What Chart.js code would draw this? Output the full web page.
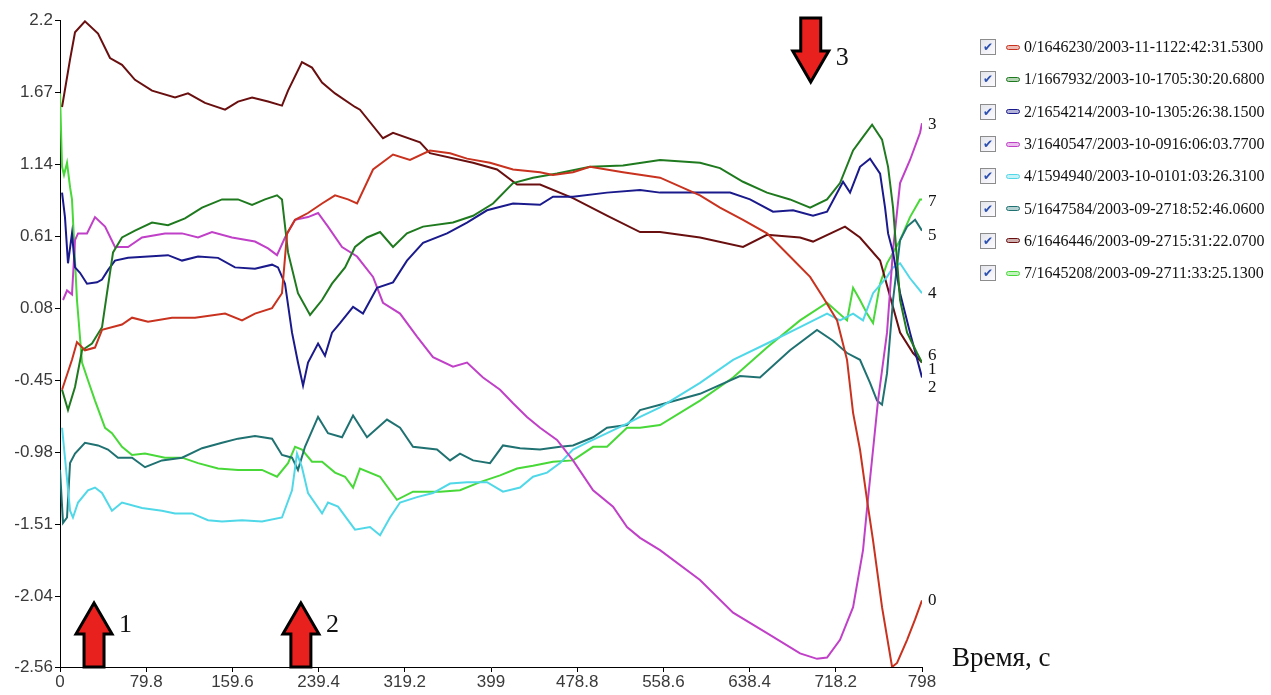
<!DOCTYPE html>
<html>
<head>
<meta charset="utf-8">
<script src="https://cdn.jsdelivr.net/npm/chart.js@4.4.1/dist/chart.umd.min.js"></script>
<style>
  body { margin: 0; background: #fff; }
  #wrap { position: relative; width: 1271px; height: 695px; }
  #legend { position: absolute; left: 980px; top: 31px; font-family: "Liberation Serif", "Times New Roman", serif; font-size: 16px; color: #111; }
  .row { height: 32.3px; display: flex; align-items: center; white-space: nowrap; }
  .cb { display: inline-block; box-sizing: border-box; width: 16px; height: 16px; margin-right: 10px; border: 1px solid #8c8c8c;
        background: linear-gradient(135deg, #e4e4ec, #fbfbff); color: #2a4fb0; font: bold 12px "DejaVu Sans", sans-serif; line-height: 14px; text-align: center; }
  .sw { display: inline-block; width: 12px; height: 3px; border: 1px solid; border-radius: 3px; margin-right: 4px; }
</style>
</head>
<body>
<div id="wrap">
  <canvas id="myChart" width="1271" height="695"></canvas>
  <div id="legend"></div>
</div>
<script>
// series names (legend) and colours
var names = ['0/1646230/2003-11-1122:42:31.5300', '1/1667932/2003-10-1705:30:20.6800', '2/1654214/2003-10-1305:26:38.1500',
  '3/1640547/2003-10-0916:06:03.7700', '4/1594940/2003-10-0101:03:26.3100', '5/1647584/2003-09-2718:52:46.0600',
  '6/1646446/2003-09-2715:31:22.0700', '7/1645208/2003-09-2711:33:25.1300'];
var colors = ['#c8321e', '#1f7a1f', '#1a1a8c', '#c040c8', '#50d8e8', '#207272', '#6a0f0f', '#48d838'];

var xTicks = [0, 79.8, 159.6, 239.4, 319.2, 399, 478.8, 558.6, 638.4, 718.2, 798];
var yTicks = [-2.56, -2.04, -1.51, -0.98, -0.45, 0.08, 0.61, 1.14, 1.67, 2.2];

// time (s) / value pairs
var s0x = [1.9, 11.1, 15.7, 23.1, 32.4, 38.9, 57.4, 66.7, 81.5, 103.7, 125, 152.8, 168.5, 180.5, 196.3, 205.5, 210.2, 217.6, 229.6, 242.6, 254.6, 266.6, 275, 289.8, 308.3, 324, 342.5, 361.1, 376.8, 398.1, 419.4, 444.4, 456.4, 474.9, 490.7, 521.2, 555.5, 592.5, 611, 632.3, 654.5, 675.8, 694.4, 706.4, 719.4, 728.6, 734.2, 740.6, 747.1, 752.7, 761, 770.3, 774.9, 784.2, 791.6, 798];
var s0y = [-0.52, -0.30, -0.17, -0.23, -0.21, -0.08, -0.04, 0.01, -0.02, 0.01, 0.01, 0.04, -0.01, 0.04, 0.08, 0.19, 0.63, 0.73, 0.78, 0.85, 0.91, 0.88, 0.85, 1.10, 1.21, 1.17, 1.24, 1.22, 1.18, 1.15, 1.10, 1.08, 1.06, 1.08, 1.12, 1.08, 1.04, 0.91, 0.82, 0.73, 0.63, 0.46, 0.31, 0.16, -0.01, -0.30, -0.69, -0.96, -1.33, -1.63, -2.12, -2.56, -2.53, -2.36, -2.21, -2.07];

var s1x = [1.9, 7.4, 13.9, 20.4, 29.6, 38.9, 43.5, 49.1, 57.4, 69.4, 85.2, 100, 115.7, 131.5, 150, 164.8, 177.8, 189.8, 200.9, 205.5, 211.1, 220.3, 231.5, 242.6, 251.8, 263.9, 273.1, 284.2, 296.3, 308.3, 321.2, 336.1, 363.8, 382.4, 400.9, 419.4, 437.9, 460.1, 490.7, 521.2, 555.5, 592.5, 611, 632.3, 654.5, 675.8, 694.4, 710.1, 722.1, 734.2, 743.4, 751.8, 761, 766.6, 771.2, 777.7, 784.2, 793.4, 798];
var s1y = [-0.52, -0.67, -0.50, -0.23, -0.18, -0.06, 0.19, 0.49, 0.60, 0.65, 0.71, 0.69, 0.74, 0.82, 0.88, 0.88, 0.84, 0.88, 0.91, 0.88, 0.49, 0.19, 0.03, 0.14, 0.26, 0.38, 0.53, 0.60, 0.64, 0.53, 0.63, 0.68, 0.71, 0.76, 0.85, 1.00, 1.04, 1.07, 1.12, 1.13, 1.17, 1.15, 1.11, 1.01, 0.93, 0.88, 0.82, 0.88, 1.00, 1.24, 1.34, 1.43, 1.32, 1.12, 0.82, 0.14, -0.10, -0.25, -0.32];

var s2x = [1.9, 4.6, 7.4, 11.1, 13.9, 18.5, 25, 34.3, 38.9, 44.4, 50.9, 63, 81.5, 100, 113, 127.8, 146.3, 162, 180.5, 196.3, 201.8, 208.3, 214.8, 220.3, 225, 229.6, 238.9, 245.3, 251.8, 259.2, 271.3, 280.5, 293.5, 308.3, 321.2, 336.1, 358.3, 376.8, 395.3, 419.4, 444.4, 456.4, 474.9, 506.4, 537, 555.5, 592.5, 620.3, 638.8, 660.1, 678.6, 697.1, 710.1, 724.9, 731.4, 740.6, 749.9, 759.2, 763.8, 766.6, 771.2, 777.7, 786.9, 798];
var s2y = [0.93, 0.75, 0.41, 0.63, 0.38, 0.34, 0.26, 0.27, 0.29, 0.36, 0.43, 0.45, 0.46, 0.47, 0.43, 0.46, 0.45, 0.38, 0.37, 0.40, 0.38, 0.26, -0.10, -0.32, -0.49, -0.32, -0.18, -0.27, -0.10, -0.03, 0.09, 0.04, 0.23, 0.27, 0.43, 0.56, 0.63, 0.71, 0.80, 0.85, 0.84, 0.90, 0.90, 0.93, 0.95, 0.93, 0.93, 0.93, 0.88, 0.79, 0.80, 0.76, 0.79, 1.01, 0.93, 1.12, 1.18, 1.07, 0.82, 0.63, 0.49, 0.19, -0.10, -0.43];

var s3x = [2.8, 6.5, 11.1, 13.9, 16.7, 25, 32.4, 41.7, 50.9, 63, 75.9, 97.2, 113, 127.8, 140.7, 159.2, 180.5, 192.6, 200.9, 208.3, 217.6, 229.6, 238.9, 248.1, 261.1, 275, 289.8, 299, 314.8, 330.5, 345.3, 363.8, 376.8, 391.6, 407.4, 419.4, 432.3, 444.4, 460.1, 474.9, 493.5, 512, 524.9, 537, 555.5, 592.5, 623.1, 654.5, 685.1, 700.8, 710.1, 722.1, 734.2, 743.4, 747.9, 752.7, 757.3, 765.6, 771.2, 777.7, 786.9, 796.2, 798];
var s3y = [0.14, 0.21, 0.18, 0.58, 0.63, 0.63, 0.75, 0.68, 0.53, 0.53, 0.60, 0.63, 0.63, 0.60, 0.64, 0.60, 0.57, 0.52, 0.47, 0.60, 0.73, 0.75, 0.78, 0.68, 0.53, 0.46, 0.31, 0.12, 0.04, -0.13, -0.28, -0.35, -0.32, -0.43, -0.52, -0.62, -0.72, -0.80, -0.89, -1.04, -1.26, -1.38, -1.53, -1.61, -1.70, -1.92, -2.16, -2.31, -2.46, -2.50, -2.49, -2.36, -2.12, -1.70, -1.33, -0.96, -0.60, -0.10, 0.51, 1.00, 1.17, 1.37, 1.44];

var s4x = [1.9, 4.6, 9.3, 12, 16.7, 25.9, 32.4, 38.9, 48.1, 57.4, 75.9, 94.4, 106.5, 122.2, 137, 150, 168.5, 187, 205.5, 214.8, 219.4, 224, 229.6, 242.6, 248.1, 257.4, 266.6, 273.1, 287, 296.3, 305.5, 314.8, 330.5, 345.3, 361.1, 376.8, 395.3, 410.1, 425.9, 437.9, 450.9, 462.9, 474.9, 487.9, 506.4, 524.9, 537, 555.5, 592.5, 623.1, 654.5, 685.1, 710.1, 722.1, 734.2, 743.4, 752.7, 765.6, 771.2, 777.7, 786.9, 798];
var s4y = [-0.80, -1.02, -1.41, -1.46, -1.35, -1.26, -1.24, -1.28, -1.41, -1.35, -1.39, -1.41, -1.43, -1.43, -1.48, -1.49, -1.48, -1.49, -1.46, -1.26, -0.99, -1.09, -1.28, -1.43, -1.35, -1.38, -1.48, -1.55, -1.53, -1.59, -1.46, -1.35, -1.31, -1.28, -1.21, -1.20, -1.20, -1.27, -1.24, -1.16, -1.13, -1.06, -0.96, -0.91, -0.84, -0.77, -0.72, -0.65, -0.47, -0.30, -0.18, -0.06, 0.04, -0.01, 0.04, -0.01, 0.19, 0.31, 0.38, 0.41, 0.30, 0.19];

var s5x = [0, 2.8, 6.5, 9.3, 13.9, 23.1, 35.2, 44.4, 53.7, 66.7, 78.7, 94.4, 113, 131.5, 150, 164.8, 180.5, 196.3, 205.5, 214.8, 220.3, 226.8, 238.9, 248.1, 261.1, 271.3, 284.2, 302.7, 314.8, 326.8, 349, 361.1, 370.3, 382.4, 398.1, 410.1, 425.9, 444.4, 462.9, 474.9, 493.5, 506.4, 524.9, 537, 555.5, 592.5, 629.5, 648, 675.8, 700.8, 715.6, 728.6, 740.6, 749.9, 756.4, 761, 765.6, 771.2, 777.7, 784.2, 791.6, 798];
var s5y = [-1.11, -1.50, -1.46, -1.06, -0.99, -0.91, -0.93, -0.96, -1.02, -1.02, -1.09, -1.04, -1.02, -0.95, -0.91, -0.88, -0.86, -0.88, -1.00, -1.02, -1.11, -0.94, -0.72, -0.84, -0.87, -0.71, -0.87, -0.74, -0.80, -0.94, -0.96, -1.04, -0.99, -1.04, -1.06, -0.93, -0.95, -0.96, -0.94, -0.93, -0.87, -0.80, -0.78, -0.67, -0.63, -0.55, -0.42, -0.43, -0.23, -0.08, -0.16, -0.25, -0.30, -0.47, -0.60, -0.63, -0.40, 0.14, 0.58, 0.68, 0.73, 0.65];

var s6x = [1.9, 9.3, 13.9, 23.1, 35.2, 46.3, 57.4, 69.4, 85.2, 106.5, 118.5, 134.2, 152.8, 164.8, 177.8, 192.6, 205.5, 211.1, 224, 233.3, 242.6, 254.6, 273.1, 277.7, 299, 308.3, 333.3, 342.5, 382.4, 404.6, 423.1, 444.4, 474.9, 506.4, 537, 555.5, 592.5, 632.3, 654.5, 685.1, 697.1, 726.7, 740.6, 759.2, 777.7, 789.7, 798];
var s6y = [1.56, 1.91, 2.11, 2.19, 2.10, 1.92, 1.87, 1.76, 1.68, 1.63, 1.66, 1.59, 1.54, 1.60, 1.63, 1.60, 1.57, 1.68, 1.89, 1.85, 1.74, 1.66, 1.56, 1.54, 1.33, 1.37, 1.30, 1.22, 1.15, 1.10, 0.99, 0.99, 0.89, 0.76, 0.64, 0.64, 0.60, 0.53, 0.62, 0.60, 0.57, 0.68, 0.60, 0.43, -0.10, -0.25, -0.32];

var s7x = [0, 1.9, 3.7, 6.5, 9.3, 11.1, 15.7, 20.4, 25.9, 32.4, 41.7, 48.1, 57.4, 66.7, 78.7, 97.2, 113, 127.8, 146.3, 164.8, 187, 200.9, 211.1, 217.6, 224, 233.3, 242.6, 254.6, 263.9, 271.3, 277.7, 296.3, 311.9, 326.8, 351.8, 370.3, 388.8, 407.4, 423.1, 437.9, 456.4, 474.9, 493.5, 506.4, 524.9, 537, 555.5, 592.5, 623.1, 654.5, 685.1, 710.1, 728.6, 734.2, 740.6, 747.1, 752.7, 759.2, 765.6, 777.7, 786.9, 796.2, 798];
var s7y = [1.66, 1.12, 1.06, 1.15, 0.97, 0.88, 0.14, -0.32, -0.45, -0.60, -0.80, -0.84, -0.94, -1.00, -0.99, -1.02, -1.02, -1.06, -1.10, -1.11, -1.11, -1.16, -1.06, -0.94, -0.96, -1.05, -1.05, -1.13, -1.16, -1.24, -1.10, -1.16, -1.33, -1.27, -1.27, -1.26, -1.20, -1.15, -1.10, -1.08, -1.05, -1.04, -0.94, -0.94, -0.80, -0.80, -0.78, -0.60, -0.43, -0.21, -0.01, 0.12, -0.01, 0.23, 0.14, 0.04, -0.03, 0.26, 0.41, 0.58, 0.75, 0.88, 0.88];

var seriesX = [s0x, s1x, s2x, s3x, s4x, s5x, s6x, s7x];
var seriesY = [s0y, s1y, s2y, s3y, s4y, s5y, s6y, s7y];

// arrows: time position, direction, caption
var arrowX = [31.5, 223, 695];
var arrowDir = ['up', 'up', 'down'];
var arrowText = ['1', '2', '3'];
// small vertical nudges of the end labels so they do not overlap
var endLabelShift = [0, 7, 10, 1, 0, 5, -7, 2];

var datasets = seriesX.map(function (xs, i) {
  return {
    label: names[i],
    data: xs.map(function (x, j) { return { x: x, y: seriesY[i][j] }; }),
    borderColor: colors[i],
    borderWidth: 2,
    pointRadius: 0,
    tension: 0,
    fill: false
  };
});

var extras = {
  id: 'extras',
  afterDatasetsDraw: function (chart) {
    var c = chart.ctx, xs = chart.scales.x, ys = chart.scales.y, area = chart.chartArea;
    c.save();
    // end labels
    c.fillStyle = '#111';
    c.font = '17px "Liberation Serif", serif';
    c.textBaseline = 'middle';
    c.textAlign = 'left';
    seriesY.forEach(function (vals, i) {
      var py = ys.getPixelForValue(vals[vals.length - 1]) + endLabelShift[i];
      c.fillText(String(i), area.right + 6, py);
    });
    // arrows
    arrowX.forEach(function (v, i) {
      var cx = xs.getPixelForValue(v);
      var up = arrowDir[i] === 'up';
      var base = up ? area.bottom : area.top - 2;
      var s = up ? -1 : 1;
      var len = 64, headLen = 31, hw = 18, sw = 10;
      c.beginPath();
      c.moveTo(cx - sw, base);
      c.lineTo(cx - sw, base + s * (len - headLen));
      c.lineTo(cx - hw, base + s * (len - headLen));
      c.lineTo(cx, base + s * len);
      c.lineTo(cx + hw, base + s * (len - headLen));
      c.lineTo(cx + sw, base + s * (len - headLen));
      c.lineTo(cx + sw, base);
      c.closePath();
      c.fillStyle = '#e8201e';
      c.fill();
      c.lineWidth = 3;
      c.strokeStyle = '#000';
      c.lineJoin = 'miter';
      c.stroke();
      c.fillStyle = '#111';
      c.font = '26px "Liberation Serif", serif';
      c.textAlign = 'left';
      c.fillText(arrowText[i], cx + 25, up ? base - 42 : base + 40);
    });
    // axis title
    c.font = '27px "Liberation Serif", serif';
    c.textAlign = 'left';
    c.fillText('Время, с', area.right + 30, area.bottom - 8);
    c.restore();
  }
};

function tickText(v) { return String(Math.round(v * 100) / 100); }

var tickFont = { family: '"Liberation Sans", Arial, sans-serif', size: 17 };

var ctx = document.getElementById('myChart').getContext('2d');
var myChart = new Chart(ctx, {
  type: 'line',
  data: { datasets: datasets },
  options: {
    responsive: false,
    animation: false,
    devicePixelRatio: 1,
    layout: { padding: { left: 0, top: 20, right: 349, bottom: 0 } },
    plugins: { legend: { display: false }, tooltip: { enabled: false } },
    scales: {
      x: {
        type: 'linear', min: 0, max: 798,
        afterBuildTicks: function (axis) { axis.ticks = xTicks.map(function (v) { return { value: v }; }); },
        afterFit: function (axis) { axis.height = 28; },
        grid: { drawOnChartArea: false, tickLength: 5, color: '#000' },
        border: { color: '#000', width: 1 },
        ticks: { color: '#3a3a3a', font: tickFont, padding: 0, maxRotation: 0, autoSkip: false, callback: tickText }
      },
      y: {
        type: 'linear', min: -2.56, max: 2.2,
        afterBuildTicks: function (axis) { axis.ticks = yTicks.map(function (v) { return { value: v }; }); },
        afterFit: function (axis) { axis.width = 60; },
        grid: { drawOnChartArea: false, tickLength: 5, color: '#000' },
        border: { color: '#000', width: 1 },
        ticks: { color: '#3a3a3a', font: tickFont, padding: 2, autoSkip: false, callback: tickText }
      }
    }
  },
  plugins: [extras]
});

// legend with check boxes
var lg = document.getElementById('legend');
names.forEach(function (n, i) {
  var row = document.createElement('div');
  row.className = 'row';
  row.innerHTML = '<span class="cb">&#10004;</span><span class="sw" style="border-color:' + colors[i] + ';background:' + colors[i] + '55"></span>' + n;
  lg.appendChild(row);
});
</script>
</body>
</html>
